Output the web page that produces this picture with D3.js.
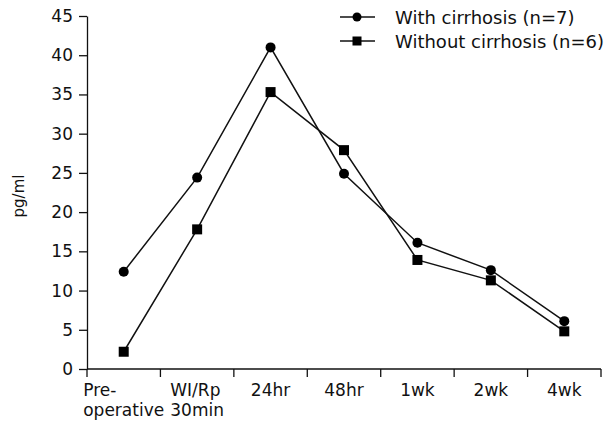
<!DOCTYPE html>
<html><head><meta charset="utf-8">
<script src="https://cdn.jsdelivr.net/npm/d3@7"></script>
<style>body{margin:0;background:#fff}svg text{font-family:"DejaVu Sans",sans-serif;fill:#111}</style>
</head><body><svg id="c" width="615" height="424"></svg>
<script>
const categories = [["Pre-","operative"],["WI/Rp","30min"],["24hr"],["48hr"],["1wk"],["2wk"],["4wk"]];
const withCirrhosis = [12.4, 24.4, 41.0, 24.9, 16.1, 12.6, 6.1];
const withoutCirrhosis = [2.2, 17.8, 35.3, 27.9, 13.9, 11.3, 4.8];
const yTicks = [0,5,10,15,20,25,30,35,40,45];
const seriesNames = ["With cirrhosis (n=7)", "Without cirrhosis (n=6)"];

const FONT = "DejaVu Sans, sans-serif";
const svg = d3.select("#c");
const m = {l:87, r:14, t:16, b:55};
const W = 615, H = 424;
const x = d3.scaleBand().domain(d3.range(categories.length)).range([m.l, W - m.r]);
const y = d3.scaleLinear().domain([0,45]).range([H - m.b, m.t]);

// y axis
const ya = svg.append("g").attr("transform",`translate(${m.l},0)`)
  .call(d3.axisLeft(y).tickValues(yTicks).tickSize(8).tickSizeOuter(0).tickPadding(6));
ya.select(".domain").attr("stroke","#111").attr("stroke-width",1.3);
ya.selectAll(".tick line").attr("stroke","#111").attr("stroke-width",1.3);
ya.selectAll(".tick text").attr("font-size",17).attr("font-family",FONT).attr("fill","#111");

// x axis with ticks at band boundaries
const xa = svg.append("g").attr("transform",`translate(0,${H - m.b})`);
xa.append("line").attr("x1",m.l).attr("x2",W-m.r).attr("stroke","#111").attr("stroke-width",1.3);
const bounds = d3.range(categories.length+1).map(i => i < categories.length ? x(i) : x(categories.length-1)+x.bandwidth());
xa.selectAll("line.tk").data(bounds).join("line").attr("class","tk")
  .attr("x1",d=>d).attr("x2",d=>d).attr("y1",0).attr("y2",8).attr("stroke","#111").attr("stroke-width",1.3);
categories.forEach((lines,i)=>{
  const cx = x(i)+x.bandwidth()/2;
  const g = xa.append("g");
  const ts = lines.map((s,j)=> g.append("text").attr("y",27+j*20).attr("font-size",17).attr("x",0).text(s));
  const maxw = d3.max(ts, t=>t.node().getComputedTextLength());
  let start = cx - maxw/2;
  if (start < 74) start = 74;
  ts.forEach(t=>t.attr("x",start));
});

// y label
svg.append("text").attr("transform","translate(24,196) rotate(-90)").attr("text-anchor","middle")
  .attr("font-size",15).text("pg/ml");

const line = d3.line().x((d,i)=>x(i)+x.bandwidth()/2).y(d=>y(d));
[withCirrhosis, withoutCirrhosis].forEach((s,k)=>{
  svg.append("path").datum(s).attr("d",line).attr("fill","none").attr("stroke","#111").attr("stroke-width",1.5);
  if (k===0) {
    svg.selectAll("circle.p").data(s).join("circle").attr("class","p")
      .attr("cx",(d,i)=>x(i)+x.bandwidth()/2).attr("cy",d=>y(d)).attr("r",5).attr("fill","#000");
  } else {
    svg.selectAll("rect.p").data(s).join("rect").attr("class","p")
      .attr("x",(d,i)=>x(i)+x.bandwidth()/2-5).attr("y",d=>y(d)-5).attr("width",10).attr("height",10).attr("fill","#000");
  }
});

// legend
seriesNames.forEach((n,k)=>{
  const ly = 17 + k*24;
  svg.append("line").attr("x1",340).attr("x2",375).attr("y1",ly).attr("y2",ly).attr("stroke","#111").attr("stroke-width",1.5);
  if (k===0) svg.append("circle").attr("cx",357).attr("cy",ly).attr("r",4.5).attr("fill","#000");
  else svg.append("rect").attr("x",352.5).attr("y",ly-4.5).attr("width",9).attr("height",9).attr("fill","#000");
  svg.append("text").attr("x",395).attr("y",ly+7).attr("font-size",18).text(n);
});
</script></body></html>
